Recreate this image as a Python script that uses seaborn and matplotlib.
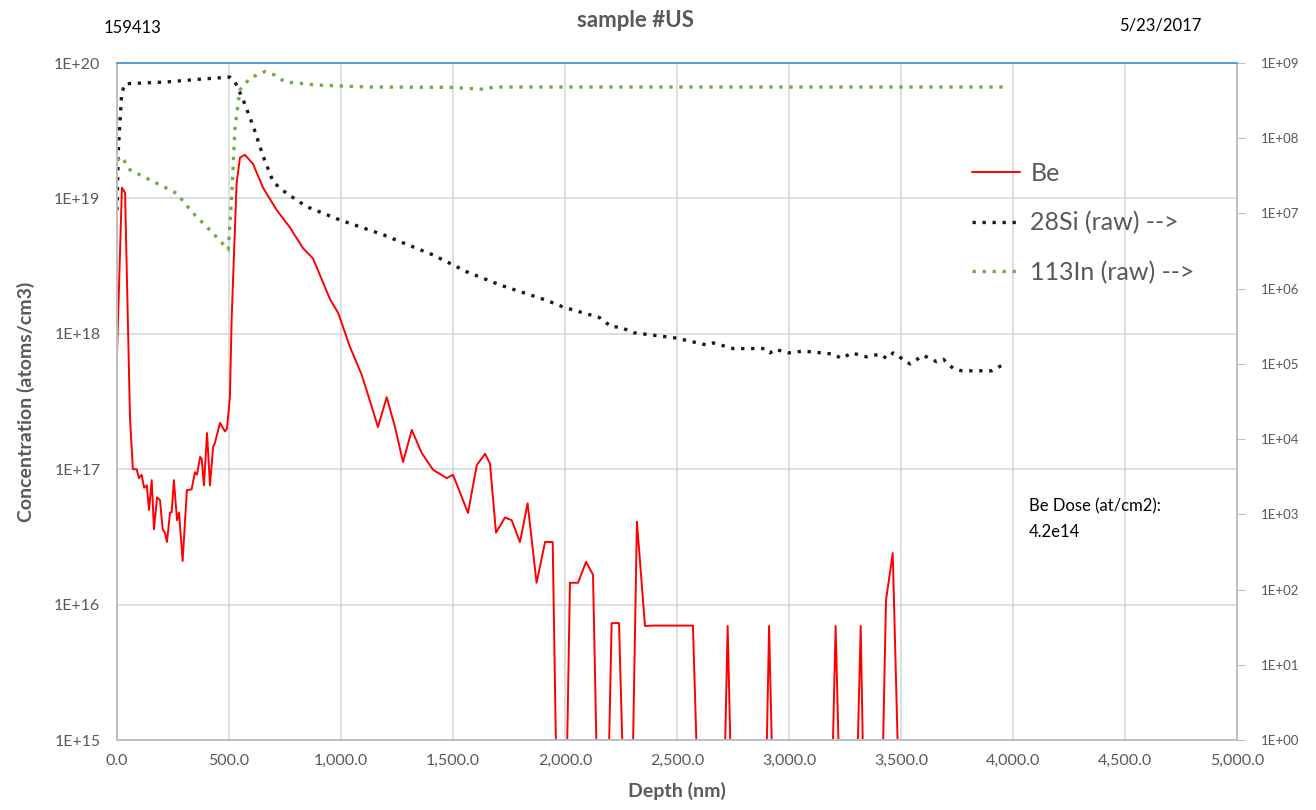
import numpy as np
import matplotlib
matplotlib.use("Agg")
import matplotlib.pyplot as plt
import seaborn as sns
from matplotlib.lines import Line2D
from matplotlib.ticker import FixedLocator, FuncFormatter, NullLocator

# Be concentration (atoms/cm3), left axis; 8e14 = below the axis floor
be_depth = [0, 22, 36, 58, 71, 88, 98, 110, 121, 133, 143, 155, 165, 179, 192, 204,
            214, 223, 237, 244, 254, 268, 277, 293, 312, 333, 348, 357, 371, 378, 388,
            402, 415, 429, 437, 460, 467, 482, 491, 504, 512, 534, 549, 571, 607, 652,
            713, 772, 830, 875, 951, 987, 1040, 1092, 1129, 1165, 1204, 1241, 1277,
            1316, 1360, 1411, 1472, 1500, 1567, 1606, 1643, 1665, 1692, 1732, 1762,
            1799, 1833, 1873, 1911, 1945, 1960, 2009, 2022, 2058, 2094, 2125, 2141,
            2196, 2208, 2241, 2257, 2303, 2321, 2357, 2393, 2571, 2588, 2714, 2726,
            2739, 2900, 2911, 2924, 3195, 3208, 3222, 3306, 3320, 3330, 3419, 3433,
            3463, 3486]
be_conc = [7.0e17, 1.2e19, 1.1e19, 2.4e17, 1.0e17, 1.0e17, 8.6e16, 9.1e16, 7.3e16,
           7.6e16, 5.0e16, 8.3e16, 3.6e16, 6.2e16, 5.9e16, 3.6e16, 3.4e16, 2.9e16,
           4.8e16, 4.8e16, 8.3e16, 4.2e16, 4.8e16, 2.1e16, 7.0e16, 7.1e16, 9.5e16,
           9.1e16, 1.23e17, 1.2e17, 7.6e16, 1.85e17, 7.6e16, 1.46e17, 1.56e17,
           2.2e17, 2.1e17, 1.9e17, 2.0e17, 3.4e17, 1.33e18, 1.3e19, 2.0e19, 2.1e19,
           1.8e19, 1.2e19, 8.2e18, 6.1e18, 4.3e18, 3.6e18, 1.8e18, 1.43e18, 8.0e17,
           5.0e17, 3.2e17, 2.05e17, 3.4e17, 2.05e17, 1.13e17, 1.95e17, 1.32e17,
           9.9e16, 8.6e16, 9.1e16, 4.75e16, 1.07e17, 1.3e17, 1.1e17, 3.4e16, 4.4e16,
           4.2e16, 2.9e16, 5.6e16, 1.45e16, 2.9e16, 2.9e16, 8e14, 8e14, 1.45e16,
           1.45e16, 2.07e16, 1.66e16, 8e14, 8e14, 7.3e15, 7.3e15, 8e14, 8e14, 4.1e16,
           6.95e15, 7.0e15, 7.0e15, 8e14, 8e14, 6.95e15, 8e14, 8e14, 6.95e15, 8e14,
           8e14, 6.95e15, 8e14, 8e14, 6.95e15, 8e14, 8e14, 1.08e16, 2.4e16, 8e14]

# 28Si raw counts, right axis
si_depth = [0, 6, 21, 36, 222, 371, 504, 527, 564, 609, 653, 698, 757, 847, 995, 1189,
            1412, 1561, 1710, 1918, 1992, 2100, 2156, 2208, 2245, 2305, 2499, 2633,
            2662, 2751, 2893, 2915, 2937, 2997, 3064, 3198, 3235, 3280, 3347, 3406,
            3436, 3465, 3540, 3599, 3659, 3689, 3733, 3771, 3905, 3934, 3960]
si_counts = [1.1e7, 7e7, 4.0e8, 5.3e8, 5.6e8, 6.1e8, 6.5e8, 5.6e8, 3.2e8, 1.42e8,
             5.7e7, 2.6e7, 1.85e7, 1.23e7, 8.2e6, 5.2e6, 2.8e6, 1.68e6, 1.12e6, 7.0e5,
             5.7e5, 4.6e5, 4.1e5, 3.1e5, 3.1e5, 2.6e5, 2.2e5, 1.78e5, 1.9e5, 1.6e5,
             1.6e5, 1.4e5, 1.57e5, 1.4e5, 1.48e5, 1.35e5, 1.18e5, 1.4e5, 1.24e5,
             1.35e5, 1.18e5, 1.4e5, 1.0e5, 1.3e5, 1.07e5, 1.15e5, 8.7e4, 8.1e4, 8.1e4,
             9.0e4, 1.0e5]

# 113In raw counts, right axis
in_depth = [0, 21, 58, 147, 266, 341, 415, 497, 512, 527, 549, 594, 661, 705, 750,
            891, 1115, 1487, 1620, 1650, 1680, 2500, 3200, 3960]
in_counts = [5.1e7, 5.7e7, 3.8e7, 2.8e7, 1.85e7, 1.0e7, 6.0e6, 3.3e6, 1.67e7, 1.42e8,
             4.4e8, 6.3e8, 7.7e8, 6.9e8, 5.6e8, 5.1e8, 4.8e8, 4.75e8, 4.5e8, 4.5e8,
             4.8e8, 4.8e8, 4.8e8, 4.8e8]

x_ticks = [0, 500, 1000, 1500, 2000, 2500, 3000, 3500, 4000, 4500, 5000]
left_ticks = [1e15, 1e16, 1e17, 1e18, 1e19, 1e20]
right_ticks = [10.0 ** k for k in range(10)]

sns.set_style("white")
plt.rcParams["font.family"] = ["Lato", "DejaVu Sans"]

GRAY = "#595959"
dot = (0, (1, 2.0))

fig = plt.figure(figsize=(13.16, 8.10), dpi=100)
ax = fig.add_axes([0.0889, 0.0864, 0.8511, 0.8358])
ax2 = ax.twinx()

sns.lineplot(x=be_depth, y=be_conc, ax=ax, color="#FF0000", linewidth=1.4)
sns.lineplot(x=si_depth, y=si_counts, ax=ax2, color="#1a1a1a", linewidth=2.4,
             linestyle=dot)
sns.lineplot(x=in_depth, y=in_counts, ax=ax2, color="#70AD47", linewidth=2.4,
             linestyle=dot)

ax.set_yscale("log")
ax2.set_yscale("log")
ax.set_xlim(0, 5000)
ax.set_ylim(1e15, 1e20)
ax2.set_ylim(1, 1e9)

ax.xaxis.set_major_locator(FixedLocator(x_ticks))
ax.xaxis.set_major_formatter(FuncFormatter(lambda v, p: f"{v:,.1f}"))
ax.yaxis.set_major_locator(FixedLocator(left_ticks))
ax.yaxis.set_minor_locator(NullLocator())
ax.yaxis.set_major_formatter(FuncFormatter(lambda v, p: f"1E+{int(round(np.log10(v))):02d}"))
ax2.yaxis.set_major_locator(FixedLocator(right_ticks))
ax2.yaxis.set_minor_locator(NullLocator())
ax2.yaxis.set_major_formatter(FuncFormatter(lambda v, p: f"1E+{int(round(np.log10(v))):02d}"))

ax.grid(True, color="#D9D9D9", linewidth=1.2)
ax.set_axisbelow(True)
ax.tick_params(axis="both", length=0, labelsize=11.5, labelcolor=GRAY, pad=10)
ax.tick_params(axis="y", pad=12)
ax2.tick_params(axis="y", length=6, color="#BFBFBF", labelsize=9.5,
                labelcolor=GRAY, pad=11)

for a in (ax, ax2):
    for side in ("left", "right", "bottom"):
        a.spines[side].set_color("#BFBFBF")
        a.spines[side].set_linewidth(1.2)
    a.spines["top"].set_color("#5B9BD5")
    a.spines["top"].set_linewidth(1.3)

ax.set_xlabel("Depth (nm)", fontsize=14, fontweight="bold", color=GRAY, labelpad=10)
ax.set_ylabel("Concentration (atoms/cm3)", fontsize=14, fontweight="bold",
              color=GRAY, labelpad=14)
ax2.set_ylabel("")

fig.text(0.483, 0.975, "sample #US", ha="center", va="center", fontsize=16,
         fontweight="bold", color=GRAY)
fig.text(0.079, 0.965, "159413", ha="left", va="center", fontsize=12, color="black")
fig.text(0.913, 0.968, "5/23/2017", ha="right", va="center", fontsize=12,
         color="black")

ax.text(0.814, 0.357, "Be Dose (at/cm2):\n4.2e14", transform=ax.transAxes,
        fontsize=12, color="black", va="top", ha="left", linespacing=1.7)

handles = [
    Line2D([], [], color="#FF0000", linewidth=1.4),
    Line2D([], [], color="#1a1a1a", linewidth=2.4, linestyle=dot),
    Line2D([], [], color="#70AD47", linewidth=2.4, linestyle=dot),
]
labels = ["Be", "28Si (raw) -->", "113In (raw) -->"]
for a in (ax, ax2):
    if a.get_legend() is not None:
        a.get_legend().remove()
ax2.legend(handles, labels, loc="upper left", bbox_to_anchor=(0.743, 0.887),
           frameon=False, fontsize=18, handlelength=1.95, handletextpad=0.4,
           labelspacing=1.05, labelcolor=GRAY)

fig.savefig("out.png", dpi=100)
